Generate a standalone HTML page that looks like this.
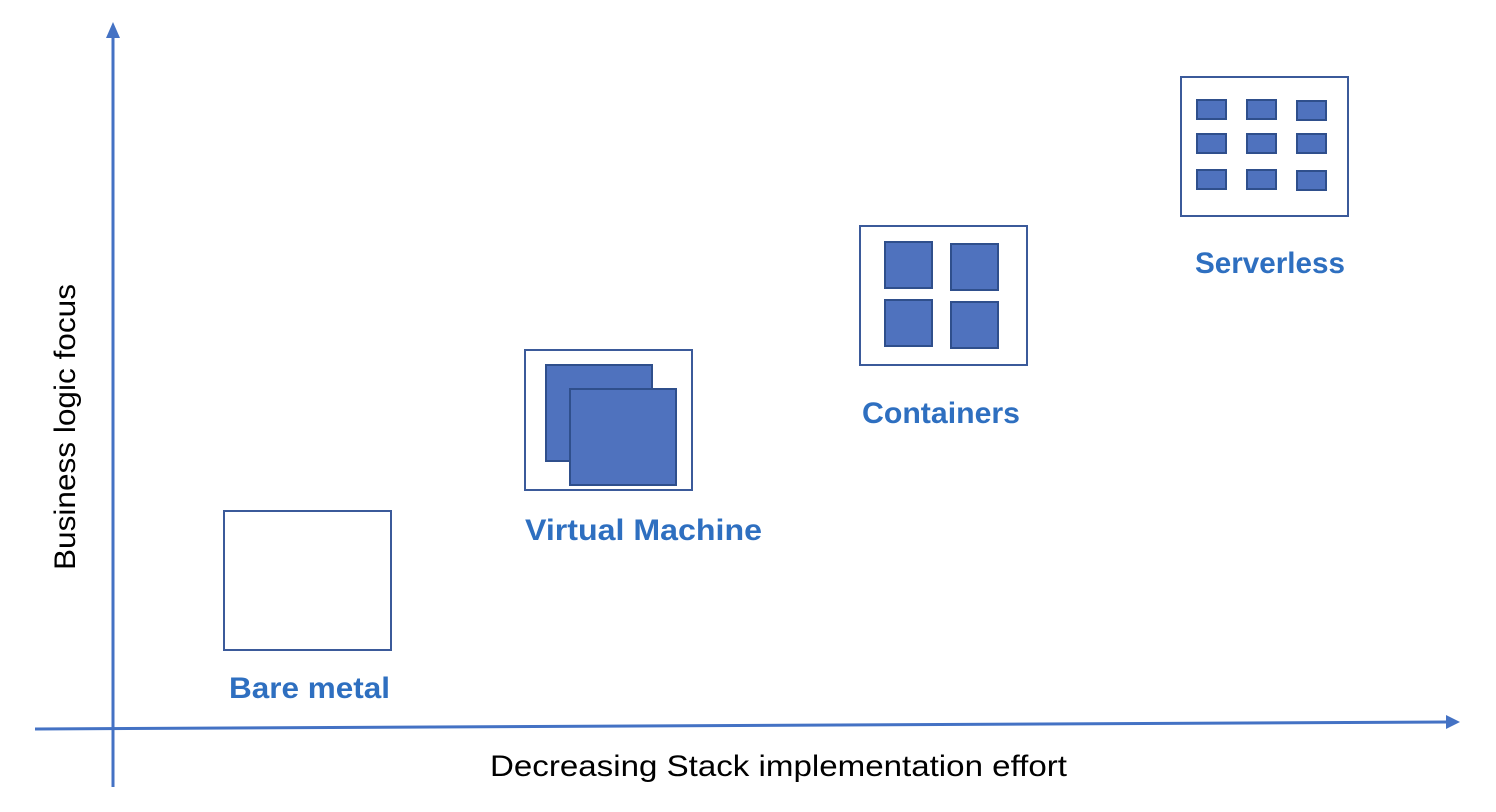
<!DOCTYPE html>
<html><head><meta charset="utf-8"><style>html,body{margin:0;padding:0;background:#fff}svg{display:block}</style></head>
<body>
<svg width="1496" height="812" viewBox="0 0 1496 812" xmlns="http://www.w3.org/2000/svg">
<g stroke="#4472c4" stroke-width="3" fill="none">
<line x1="113" y1="787" x2="113" y2="36"/>
<line x1="35" y1="729" x2="1448" y2="722"/>
</g>
<polygon points="113,22 106,38 120,38" fill="#4472c4"/>
<polygon points="1460,722 1446,715 1446,729" fill="#4472c4"/>
<g fill="none" stroke="#3b5a9a" stroke-width="2">
<rect x="224" y="511" width="167" height="139"/>
<rect x="525" y="350" width="167" height="140"/>
<rect x="860" y="226" width="167" height="139"/>
<rect x="1181" y="77" width="167" height="139"/>
</g>
<g fill="#4f72be" stroke="#2f4f8c" stroke-width="2">
<rect x="546" y="365" width="106" height="96"/>
<rect x="570" y="389" width="106" height="96"/>
<rect x="885" y="242" width="47" height="46"/>
<rect x="951" y="244" width="47" height="46"/>
<rect x="885" y="300" width="47" height="46"/>
<rect x="951" y="302" width="47" height="46"/>
<rect x="1197" y="100" width="29" height="19"/>
<rect x="1247" y="100" width="29" height="19"/>
<rect x="1297" y="101" width="29" height="19"/>
<rect x="1197" y="134" width="29" height="19"/>
<rect x="1247" y="134" width="29" height="19"/>
<rect x="1297" y="134" width="29" height="19"/>
<rect x="1197" y="170" width="29" height="19"/>
<rect x="1247" y="170" width="29" height="19"/>
<rect x="1297" y="171" width="29" height="19"/>
</g>
<g font-family="Liberation Sans, sans-serif" font-weight="bold" font-size="30" fill="#2e6fc0">
<text x="229" y="698" textLength="161" lengthAdjust="spacingAndGlyphs">Bare metal</text>
<text x="525" y="540" textLength="237" lengthAdjust="spacingAndGlyphs">Virtual Machine</text>
<text x="862" y="423" textLength="158" lengthAdjust="spacingAndGlyphs">Containers</text>
<text x="1195" y="273" textLength="150" lengthAdjust="spacingAndGlyphs">Serverless</text>
</g>
<g font-family="Liberation Sans, sans-serif" font-size="30" fill="#000">
<text x="490" y="776" textLength="577" lengthAdjust="spacingAndGlyphs">Decreasing Stack implementation effort</text>
<text transform="translate(75,570) rotate(-90)" x="0" y="0" textLength="286" lengthAdjust="spacingAndGlyphs">Business logic focus</text>
</g>
</svg>
</body></html>
